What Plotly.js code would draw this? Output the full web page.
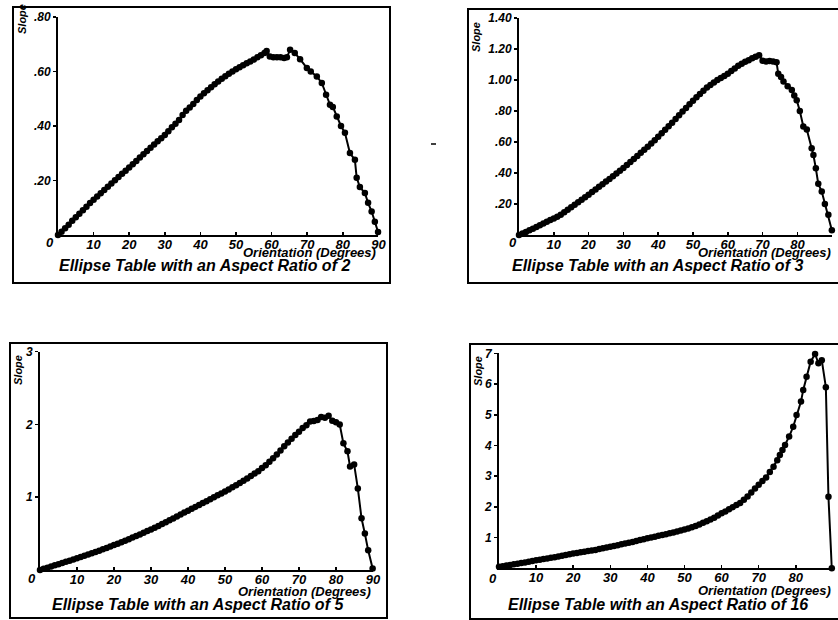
<!DOCTYPE html>
<html>
<head>
<meta charset="utf-8">
<script src="https://cdn.plot.ly/plotly-3.0.1.min.js"></script>
<style>html,body{margin:0;padding:0;background:#fff;}#chart{width:838px;height:620px;}</style>
</head>
<body>
<div id="chart"></div>
<script>
// ---- Data ----
const titles = [
  "Ellipse Table with an Aspect Ratio of 2",
  "Ellipse Table with an Aspect Ratio of 3",
  "Ellipse Table with an Aspect Ratio of 5",
  "Ellipse Table with an Aspect Ratio of 16"
];
const xTitle = "Orientation (Degrees)";
const yTitle = "Slope";
const xTickVals = [10, 20, 30, 40, 50, 60, 70, 80, 90];
const xTickText = ["10", "20", "30", "40", "50", "60", "70", "80", "90"];

// Aspect ratio 2
const ar2X = [0,1,2,3,4,5,6,7,8,9,10,11,12,13,14,15,16,17,18,19,20,21,22,23,24,25,26,27,28,29,30,
  31,32,33,34,35,36,37,38,39,40,41,42,43,44,45,46,47,48,49,50,51,52,53,54,55,56,57,58,58.6,
  59.5,60.5,61.5,62.5,63.5,64.3,65.2,66.5,68,69.9,71,72.7,74.1,75.3,76.4,77.2,78.3,79.5,80.6,
  82.0,83.4,83.9,84.8,86.2,87.1,88.1,89.0,89.9];
const ar2Y = [0,0.012,0.025,0.038,0.052,0.065,0.078,0.091,0.104,0.117,0.129,0.141,0.153,0.165,0.177,0.189,
  0.201,0.213,0.225,0.236,0.248,0.260,0.272,0.284,0.296,0.308,0.320,0.332,0.344,0.355,0.367,
  0.381,0.395,0.408,0.422,0.440,0.456,0.468,0.481,0.495,0.508,0.520,0.531,0.542,0.553,0.563,
  0.573,0.583,0.592,0.600,0.608,0.616,0.623,0.630,0.637,0.644,0.652,0.660,0.668,0.675,
  0.655,0.652,0.652,0.652,0.650,0.652,0.680,0.668,0.645,0.613,0.600,0.582,0.558,0.515,0.478,
  0.470,0.435,0.400,0.375,0.301,0.276,0.210,0.176,0.154,0.118,0.086,0.049,0.011];
const ar2Ticks = [0.2, 0.4, 0.6, 0.8];
const ar2TickText = [".20", ".40", ".60", ".80"];

// Aspect ratio 3
const ar3X = [0,1,2,3,4,5,6,7,8,9,10,11,12,13,14,15,16,17,18,19,20,21,22,23,24,25,26,27,28,29,30,
  31,32,33,34,35,36,37,38,39,40,41,42,43,44,45,46,47,48,49,50,51,52,53,54,55,56,57,58,59,60,
  61,62,63,64,65,66,67,68,69,70,71,72,73,74,74.5,75.3,76.0,77.2,78.4,79.1,79.8,80.7,81.7,82.7,
  84.1,84.6,85.3,86.0,87.0,87.9,88.9,89.9];
const ar3Y = [0,0.010,0.020,0.030,0.041,0.052,0.063,0.074,0.085,0.096,0.106,0.117,0.131,0.147,0.163,0.179,
  0.195,0.211,0.227,0.243,0.260,0.277,0.294,0.311,0.328,0.345,0.362,0.379,0.397,0.415,0.433,
  0.452,0.471,0.490,0.510,0.530,0.550,0.570,0.591,0.612,0.634,0.656,0.679,0.702,0.725,0.749,
  0.773,0.797,0.820,0.843,0.866,0.888,0.910,0.931,0.951,0.968,0.984,1.000,1.013,1.026,1.040,
  1.058,1.075,1.092,1.105,1.118,1.128,1.140,1.150,1.160,1.125,1.120,1.122,1.120,1.115,1.040,
  1.020,0.990,0.960,0.935,0.900,0.870,0.800,0.700,0.680,0.560,0.516,0.430,0.330,0.280,0.200,
  0.130,0.030];
const ar3Ticks = [0.2, 0.4, 0.6, 0.8, 1.0, 1.2, 1.4];
const ar3TickText = [".20", ".40", ".60", ".80", "1.00", "1.20", "1.40"];

// Aspect ratio 5
const ar5X = [0,1,2,3,4,5,6,7,8,9,10,11,12,13,14,15,16,17,18,19,20,21,22,23,24,25,26,27,28,29,30,
  31,32,33,34,35,36,37,38,39,40,41,42,43,44,45,46,47,48,49,50,51,52,53,54,55,56,57,58,59,60,
  61,62,63,64,65,66,67,68,69,70,71,72,73,74,75,76,77,78,79,80,81,82,83.1,83.8,84.9,85.9,86.9,
  87.8,88.7,89.9];
const ar5Y = [0,0.016,0.032,0.048,0.064,0.080,0.096,0.112,0.128,0.144,0.161,0.178,0.195,0.212,0.230,0.248,
  0.266,0.284,0.303,0.322,0.342,0.362,0.382,0.403,0.424,0.445,0.467,0.489,0.512,0.535,0.558,
  0.582,0.606,0.631,0.656,0.682,0.708,0.735,0.762,0.789,0.815,0.841,0.867,0.893,0.919,0.945,
  0.972,0.999,1.026,1.052,1.078,1.106,1.135,1.164,1.194,1.225,1.257,1.290,1.324,1.358,1.400,
  1.440,1.487,1.535,1.585,1.640,1.700,1.752,1.804,1.855,1.900,1.950,1.990,2.040,2.045,2.060,
  2.100,2.090,2.120,2.050,2.030,2.000,1.740,1.630,1.420,1.450,1.120,0.710,0.500,0.270,0.020];
const ar5Ticks = [1, 2, 3];
const ar5TickText = ["1", "2", "3"];

// Aspect ratio 16
const ar16X = [0,1,2,3,4,5,6,7,8,9,10,11,12,13,14,15,16,17,18,19,20,21,22,23,24,25,26,27,28,29,30,
  31,32,33,34,35,36,37,38,39,40,41,42,43,44,45,46,47,48,49,50,51,52,53,54,55,56,57,58,59,60,
  61,62,63,64,65,66,67,68,69,70,71,72,73,74,75,75.7,76.4,77.1,78.2,79.3,80.2,81.4,82.0,82.9,
  84.0,85.2,86.1,87.0,88.1,88.8,89.7];
const ar16Y = [0.05,0.07,0.09,0.11,0.13,0.15,0.17,0.19,0.21,0.235,0.26,0.28,0.30,0.32,0.34,0.36,0.385,
  0.41,0.435,0.46,0.48,0.50,0.52,0.54,0.56,0.58,0.60,0.625,0.65,0.675,0.70,0.725,0.75,0.78,
  0.805,0.83,0.86,0.89,0.92,0.95,0.98,1.005,1.03,1.06,1.085,1.11,1.14,1.17,1.20,1.23,1.26,
  1.30,1.34,1.38,1.43,1.48,1.53,1.59,1.65,1.72,1.79,1.85,1.92,1.99,2.06,2.13,2.23,2.34,2.47,
  2.60,2.72,2.84,2.96,3.14,3.31,3.52,3.69,3.85,4.02,4.29,4.61,4.99,5.43,5.81,6.24,6.73,6.98,
  6.68,6.78,5.90,2.33,0.0];
const ar16Ticks = [1, 2, 3, 4, 5, 6, 7];
const ar16TickText = ["1", "2", "3", "4", "5", "6", "7"];

// ---- Layout geometry (pixels in the 838x620 picture) ----
const W = 838, H = 620;
const px = v => v / W;
const py = v => 1 - v / H;

const panels = [
  {x: ar2X, y: ar2Y, ymax: 0.8, ticks: ar2Ticks, tt: ar2TickText,
   plot: [58, 378.4, 235, 17], box: [13, 390, 7, 283],
   slope: [22, 19], orient: [378, 252], title: [204, 265], zero: [50, 243]},
  {x: ar3X, y: ar3Y, ymax: 1.4, ticks: ar3Ticks, tt: ar3TickText,
   plot: [519, 832.2, 235, 18], box: [468, 860, 9, 283],
   slope: [476, 37], orient: [833, 252], title: [657, 266], zero: [513, 243]},
  {x: ar5X, y: ar5Y, ymax: 3, ticks: ar5Ticks, tt: ar5TickText,
   plot: [40, 373, 570, 351.6], box: [10, 387, 343, 618],
   slope: [18, 370], orient: [373, 591], title: [198, 604], zero: [32, 578]},
  {x: ar16X, y: ar16Y, ymax: 7, ticks: ar16Ticks, tt: ar16TickText,
   plot: [499, 832.9, 568.3, 353.4], box: [470, 860, 344, 619],
   slope: [478, 371], orient: [833, 590], title: [658, 604], zero: [493, 578]}
];

const FAM = "Liberation Sans, Arial, Helvetica, sans-serif";
const bfont = (size) => ({family: FAM, size: size, color: "#000", weight: "bold", style: "italic"});

const data = [];
const layout = {
  width: W, height: H,
  margin: {l: 0, r: 0, t: 0, b: 0},
  paper_bgcolor: "#fff", plot_bgcolor: "rgba(0,0,0,0)",
  showlegend: false,
  shapes: [], annotations: []
};

panels.forEach((p, i) => {
  const n = i === 0 ? "" : String(i + 1);
  data.push({
    type: "scatter", mode: "lines+markers",
    x: p.x, y: p.y,
    xaxis: "x" + n, yaxis: "y" + n,
    line: {color: "#000", width: 2},
    marker: {color: "#000", size: 6.5, symbol: "circle"},
    cliponaxis: false, hoverinfo: "skip"
  });
  const common = {
    showgrid: false, zeroline: false, showline: true,
    linecolor: "#000", linewidth: 2, fixedrange: true,
    tickcolor: "#000", tickwidth: 1.5, ticklen: 3
  };
  layout["xaxis" + n] = Object.assign({}, common, {
    domain: [px(p.plot[0]), px(p.plot[1])],
    range: [0, 90], anchor: "y" + n,
    tickmode: "array", tickvals: xTickVals, ticktext: xTickText,
    ticks: "inside", tickfont: bfont(13), ticklabelstandoff: -4
  });
  layout["yaxis" + n] = Object.assign({}, common, {
    domain: [py(p.plot[2]), py(p.plot[3])],
    range: [0, p.ymax], anchor: "x" + n,
    tickmode: "array", tickvals: p.ticks, ticktext: p.tt,
    ticks: "outside", tickfont: bfont(12)
  });
  layout.shapes.push({
    type: "rect", xref: "paper", yref: "paper",
    x0: px(p.box[0]), x1: px(p.box[1]), y0: py(p.box[3]), y1: py(p.box[2]),
    line: {color: "#000", width: 2}, fillcolor: "rgba(0,0,0,0)"
  });
  layout.annotations.push({
    xref: "paper", yref: "paper", x: px(p.slope[0]), y: py(p.slope[1]),
    text: yTitle, textangle: -90, showarrow: false, font: bfont(11),
    xanchor: "center", yanchor: "middle"
  });
  layout.annotations.push({
    xref: "paper", yref: "paper", x: px(p.orient[0]), y: py(p.orient[1]),
    text: xTitle, showarrow: false, font: bfont(13),
    xanchor: "right", yanchor: "middle"
  });
  layout.annotations.push({
    xref: "paper", yref: "paper", x: px(p.title[0]), y: py(p.title[1]),
    text: titles[i], showarrow: false, font: bfont(16),
    xanchor: "center", yanchor: "middle"
  });
  layout.annotations.push({
    xref: "paper", yref: "paper", x: px(p.zero[0]), y: py(p.zero[1]),
    text: "0", showarrow: false, font: bfont(13),
    xanchor: "center", yanchor: "middle"
  });
});

// small stray mark in the scan, left of the second panel
layout.shapes.push({type: "line", xref: "paper", yref: "paper",
  x0: px(431), x1: px(436), y0: py(144), y1: py(144), line: {color: "#000", width: 1.5}});

Plotly.newPlot("chart", data, layout, {staticPlot: true, displayModeBar: false});
</script>
</body>
</html>
